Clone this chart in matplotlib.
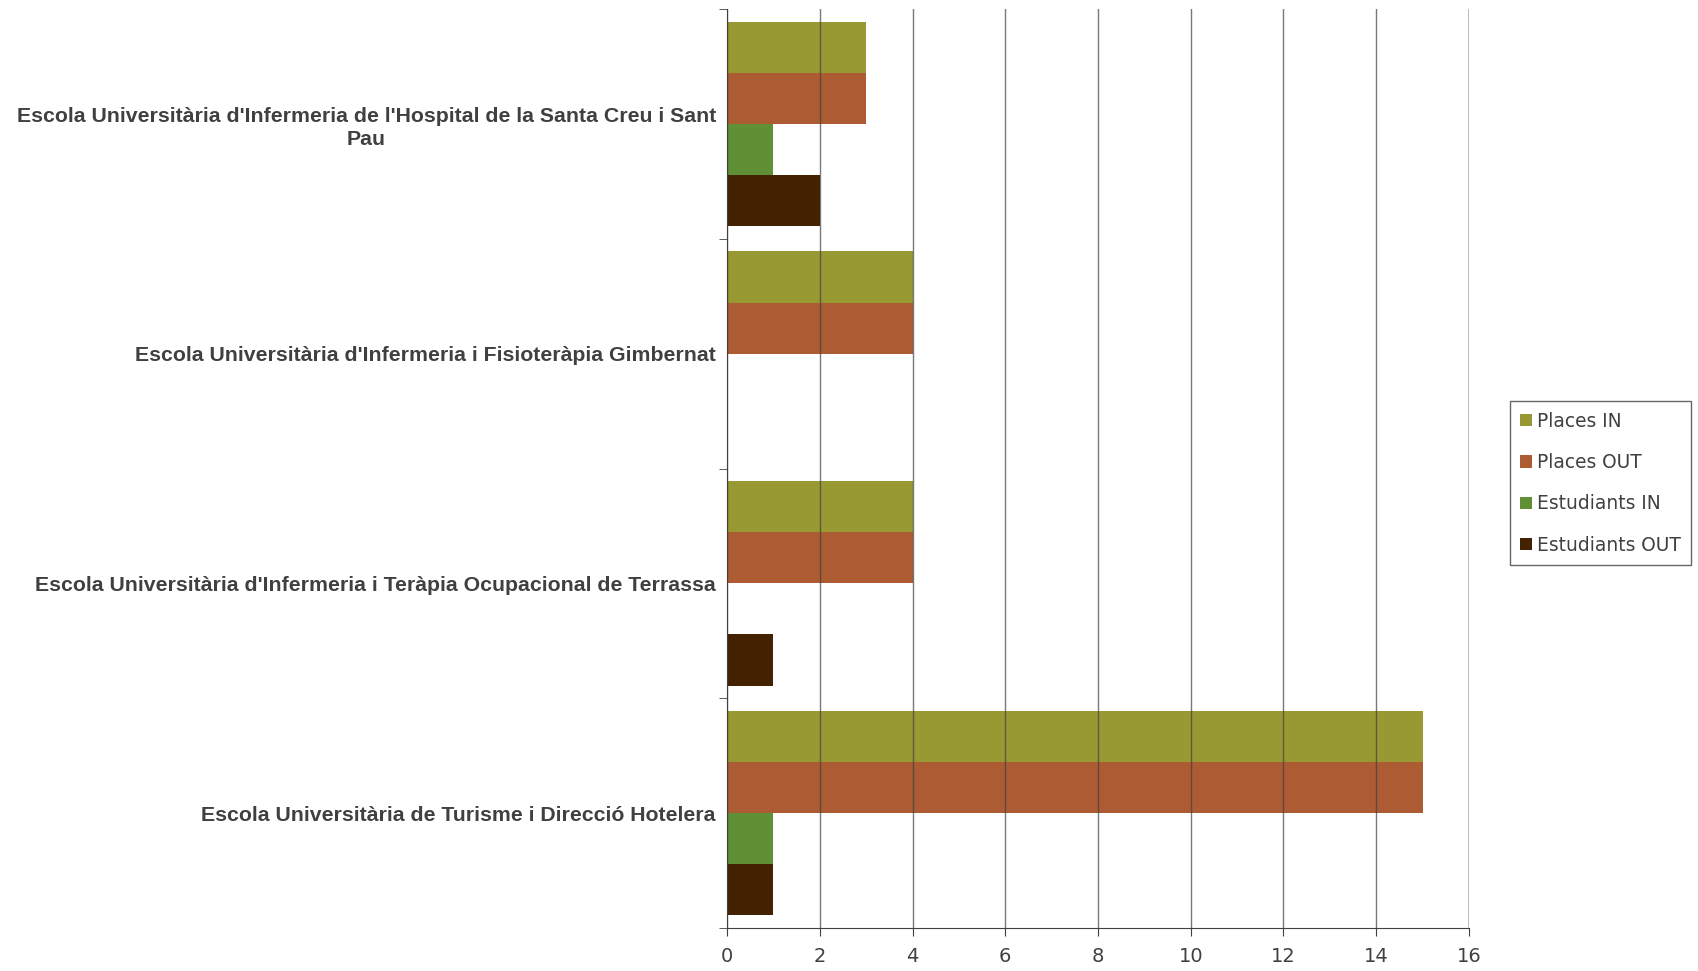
import matplotlib.pyplot as plt
import numpy as np

# Dades
escoles = [
    "Escola Universitària d'Infermeria de l'Hospital de la Santa Creu i Sant\nPau",
    "Escola Universitària d'Infermeria i Fisioteràpia Gimbernat",
    "Escola Universitària d'Infermeria i Teràpia Ocupacional de Terrassa",
    "Escola Universitària de Turisme i Direcció Hotelera",
]
places_in = [3, 4, 4, 15]
places_out = [3, 4, 4, 15]
estudiants_in = [1, 0, 0, 1]
estudiants_out = [2, 0, 1, 1]

series = ["Places IN", "Places OUT", "Estudiants IN", "Estudiants OUT"]
valors = [places_in, places_out, estudiants_in, estudiants_out]
colors = ["#999933", "#AD5B33", "#609035", "#422200"]

fig = plt.figure(figsize=(16.98, 9.71), dpi=100)
ax = fig.add_axes([0.4282, 0.0443, 0.8651 - 0.4282, 0.9907 - 0.0443])

n = len(escoles)
y = np.arange(n)  # 0 = a dalt
h = 0.2225
for i, (nom, vals, c) in enumerate(zip(series, valors, colors)):
    offs = (i - 1.5) * h
    ax.barh(y + offs, vals, height=h, color=c, label=nom, zorder=2)

ax.set_ylim(n - 0.5, -0.5)
ax.set_xlim(0, 16)
ax.set_yticks(y)
ax.set_yticklabels(escoles, fontsize=15.3, fontweight='bold', color='#404040',
                   family='Liberation Sans', multialignment='center',
                   linespacing=1.3)
ax.tick_params(axis='y', length=0, pad=8)
ax.set_yticks(np.arange(n + 1) - 0.5, minor=True)
ax.tick_params(axis='y', which='minor', length=6, color='#404040')

ax.set_xticks(np.arange(0, 17, 2))
ax.tick_params(axis='x', length=6, color='#404040', labelsize=14,
               labelcolor='#404040', pad=8)

ax.grid(axis='x', color='#404040', linewidth=1, alpha=0.7, zorder=3)
ax.set_axisbelow(False)
for s in ['top', 'right']:
    ax.spines[s].set_visible(False)
for s in ['left', 'bottom']:
    ax.spines[s].set_color('#404040')
ax.axvline(16, color='#c8c8c8', linewidth=1.2, zorder=1)

leg = ax.legend(loc='center left', bbox_to_anchor=(1.055, 0.484), fontsize=13.4,
                frameon=True, fancybox=False, edgecolor='#404040',
                handlelength=0.65, handleheight=0.65, handletextpad=0.25,
                labelspacing=1.2, borderpad=0.55, borderaxespad=0.0)
leg.get_frame().set_linewidth(1.0)
for t in leg.get_texts():
    t.set_color('#404040')

plt.savefig('out.png', dpi=100)
